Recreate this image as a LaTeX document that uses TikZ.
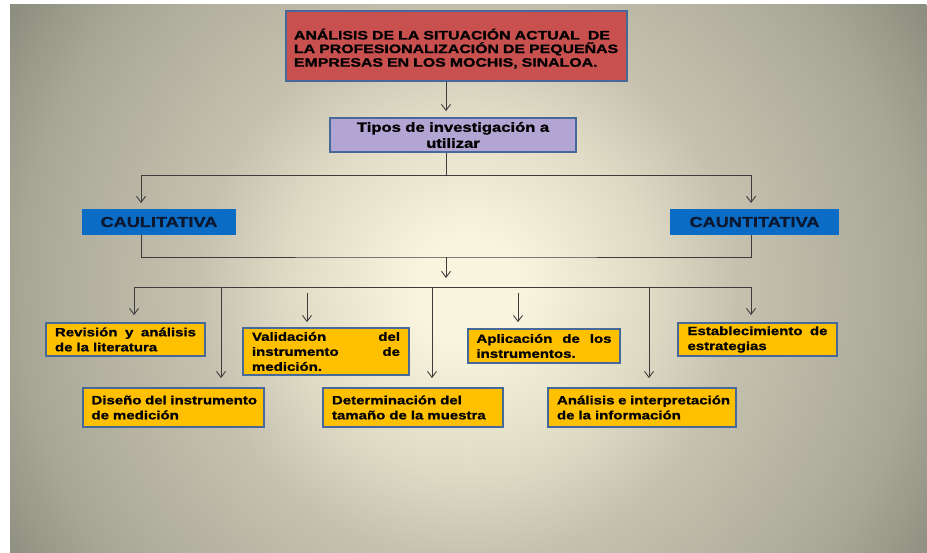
\documentclass[tikz,border=0pt]{standalone}
\usepackage{fontspec}
\setmainfont{Liberation Sans}[FakeStretch=1.25, BoldFeatures={FakeBold=1.2}]
\newfontfamily\titlefont{Liberation Sans}[FakeStretch=1.3, BoldFeatures={FakeBold=1.2}]
\usetikzlibrary{arrows.meta}

% palette
\definecolor{bgcore}{HTML}{F8F4DE}
\definecolor{bga}{HTML}{DEDAC4}
\definecolor{bgb}{HTML}{C6C1AF}
\definecolor{bgc}{HTML}{A8A796}
\definecolor{bgd}{HTML}{8E8E80}
\definecolor{linec}{HTML}{3C3C3C}
\definecolor{boxedge}{HTML}{46699A}
\definecolor{titlered}{HTML}{C8504F}
\definecolor{lavender}{HTML}{B3A5D3}
\definecolor{boxblue}{HTML}{0A6CC4}
\definecolor{boxyellow}{HTML}{FFC000}
\definecolor{navytext}{HTML}{0B1830}

% soft radial backdrop (25bp = radius of the clipped circle)
\pgfdeclareradialshading{backdrop}{\pgfpoint{0bp}{0bp}}{%
  color(0bp)=(bgcore); color(2.5bp)=(bgcore); color(8.5bp)=(bga);
  color(12.5bp)=(bgb); color(20.7bp)=(bgc); color(24.7bp)=(bgd);
  color(50bp)=(bgd)}

\tikzset{
  conn/.style={draw=linec, line width=0.9pt},
  arr/.style={conn, -{Straight Barb[length=6pt,width=9pt]}},
  basebox/.style={draw=boxedge, line width=1.8pt, inner sep=0pt},
  titlebox/.style={basebox, fill=titlered, align=left,
    font=\titlefont\fontsize{12.2}{13.6}\selectfont\bfseries},
  typebox/.style={basebox, fill=lavender, align=center,
    font=\fontsize{13.3}{16}\selectfont\bfseries},
  bluebox/.style={fill=boxblue, draw=boxblue, line width=1pt,
    inner sep=0pt, text=navytext, font=\fontsize{14.5}{16}\selectfont\bfseries},
  stepcard/.style={basebox, fill=boxyellow, align=left,
    font=\fontsize{12}{15}\selectfont\bfseries}
}
% a line spread over the given width, word gaps stretched
\newcommand{\fullline}[2]{\makebox[#1][s]{\spaceskip=0.3em plus 4em\relax #2}}

\begin{document}
\begin{tikzpicture}[x=1pt, y=-1pt]
  \useasboundingbox (0,0) rectangle (927,552);
  \fill[white] (0,0) rectangle (927,552);
  \begin{scope}
    \clip (10,4) rectangle (928,553);
    \shade[shading=backdrop] (468,290) circle (540);
  \end{scope}

  % boxes
  \node[titlebox, minimum width=341, minimum height=70, text width=325] (title) at (456.5,46)
    {\rule{0pt}{16pt}ANÁLISIS DE LA SITUACIÓN ACTUAL\ \ DE\\LA PROFESIONALIZACIÓN DE PEQUEÑAS\\EMPRESAS EN LOS MOCHIS, SINALOA.};
  \node[typebox, minimum width=246, minimum height=34, text width=230] (tipos) at (453,135)
    {Tipos de investigación a\\utilizar};

  \node[bluebox, minimum width=153, minimum height=25] (caul) at (159,222) {CAULITATIVA};
  \node[bluebox, minimum width=168, minimum height=25] (caun) at (754.5,222) {CAUNTITATIVA};

  \node[stepcard, minimum width=159, minimum height=33, text width=141] (rev) at (125.5,339.5)
    {\fullline{141pt}{Revisión y análisis}\\de la literatura};
  \node[stepcard, minimum width=166, minimum height=47, text width=148] (val) at (326,351.5)
    {\fullline{148pt}{Validación del}\\\fullline{148pt}{instrumento de}\\medición.};
  \node[stepcard, minimum width=152, minimum height=34, text width=135] (apl) at (544,346)
    {\fullline{135pt}{Aplicación de los}\\instrumentos.};
  \node[stepcard, minimum width=159, minimum height=33, text width=140] (est) at (757.5,339.5)
    {\fullline{140pt}{Establecimiento de}\\estrategias};
  \node[stepcard, minimum width=181, minimum height=39, text width=164] (dis) at (173.5,407.5)
    {\fullline{164pt}{Diseño del instrumento}\\de medición};
  \node[stepcard, minimum width=180, minimum height=39, text width=162] (det) at (413,407.5)
    {Determinación del\\tamaño de la muestra};
  \node[stepcard, minimum width=188, minimum height=39, text width=170] (ana) at (642,407.5)
    {\fullline{170pt}{Análisis e interpretación}\\de la información};

  % connector junctions
  \coordinate (axis) at (446,0);
  \coordinate (s1) at (446,175);
  \coordinate (sl) at (141,175);
  \coordinate (sr) at (751,175);
  \coordinate (j1) at (446,257);
  \coordinate (j2) at (446,278);
  \coordinate (bl) at (134,287);
  \coordinate (b2) at (221,287);
  \coordinate (b4) at (432,287);
  \coordinate (b6) at (649,287);
  \coordinate (br) at (751,287);
  \coordinate (f3) at (307,293);
  \coordinate (f5) at (518,293);

  % title to research types
  \draw[arr, shorten >=6pt] (title.south -| axis) -- (tipos.north -| axis);
  \draw[conn] (tipos.south -| axis) -- (s1);
  \draw[arr, shorten >=6pt] (s1) -| (sl |- caul.north);
  \draw[arr, shorten >=6pt] (s1) -| (sr |- caun.north);

  % merge of both approaches
  \draw[conn] (sl |- caul.south) |- (j1) -| (sr |- caun.south);
  \draw[arr] (j1) -- (j2);

  % distribution bar and the steps
  \draw[conn] (bl) -- (br);
  \draw[arr, shorten >=7pt] (bl) -- (bl |- rev.north);
  \draw[arr, shorten >=9pt] (b2) -- (b2 |- dis.north);
  \draw[arr, shorten >=5pt] (f3) -- (f3 |- val.north);
  \draw[arr, shorten >=9pt] (b4) -- (b4 |- det.north);
  \draw[arr, shorten >=6pt] (f5) -- (f5 |- apl.north);
  \draw[arr, shorten >=9pt] (b6) -- (b6 |- ana.north);
  \draw[arr, shorten >=7pt] (br) -- (br |- est.north);
\end{tikzpicture}
\end{document}
